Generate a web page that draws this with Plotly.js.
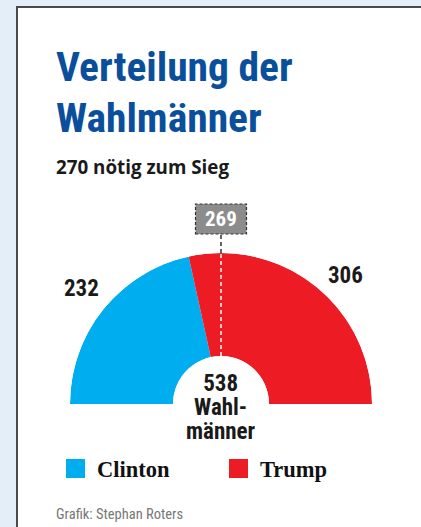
<!DOCTYPE html>
<html><head><meta charset="utf-8">
<script src="https://cdn.plot.ly/plotly-3.0.1.min.js"></script>
<style>html,body{margin:0;padding:0;background:#e4eef8;overflow:hidden}</style>
</head><body><div id="chart" style="width:421px;height:527px"></div>
<script>
// ---- data ----
const candidates = ['Clinton', 'Trump'];
const electors = [232, 306];
const colors = ['#00aeef', '#ed1c24'];
const majorityMark = 269;
const centerLabel = ['538', 'Wahl-', 'männer'];
const titleLines = ['Verteilung der', 'Wahlmänner'];
const subtitle = '270 nötig zum Sieg';
const source = 'Grafik: Stephan Roters';

// ---- geometry helpers ----
const W = 421, H = 527;
const px = x => x / W, py = y => 1 - y / H;
const cx = 221, cy = 404, R = 151, hole = 48 / 151;
const total = electors.reduce((a, b) => a + b, 0);

let acc = 0;
const widths = electors.map(v => v / total * 180);
const thetas = electors.map((v, i) => { const c = acc + widths[i] / 2; acc += widths[i]; return c; });

const COND = '"Roboto Condensed", "Open Sans Condensed", sans-serif';
const SANS = '"Open Sans", "Noto Sans", sans-serif';
const SERIF = '"Liberation Serif", serif';

const traces = [{
  type: 'barpolar',
  r: electors.map(() => 1),
  theta: thetas,
  width: widths,
  marker: { color: colors, line: { width: 0 } },
  hoverinfo: 'skip',
  showlegend: false
}];

const markAngle = majorityMark / total * 180;
traces.push({
  type: 'scatterpolar',
  r: [0, 1],
  theta: [markAngle, markAngle],
  mode: 'lines',
  line: { color: '#ffffff', width: 1.5, dash: '4px,3px' },
  hoverinfo: 'skip',
  showlegend: false
});

// marker position in pixels (angle measured from the left, clockwise)
const rad = markAngle * Math.PI / 180;
const mx = cx - R * Math.cos(rad), my = cy - R * Math.sin(rad);
const boxW = 51, boxH = 30, boxBottom = 234;

const shapes = [
  { type: 'rect', xref: 'paper', yref: 'paper', x0: px(17), x1: px(440), y0: py(7), y1: py(560),
    fillcolor: '#ffffff', line: { color: '#4a4a4a', width: 2 }, layer: 'below' },
  { type: 'line', xref: 'paper', yref: 'paper', x0: px(mx), x1: px(mx), y0: py(my), y1: py(boxBottom),
    line: { color: '#111', width: 1.3, dash: '4px,3px' } },
  { type: 'rect', xref: 'paper', yref: 'paper', x0: px(mx - boxW / 2), x1: px(mx + boxW / 2),
    y0: py(boxBottom), y1: py(boxBottom - boxH),
    fillcolor: '#8c8c8c', line: { color: '#333', width: 1.2, dash: '3px,2px' } }
];

const annotations = [
  { text: subtitle, x: px(54), y: py(166.5), xanchor: 'left', yanchor: 'middle',
    font: { family: SANS, size: 18.8, color: '#1a1a1a', weight: 700 } },
  { text: String(majorityMark), x: px(mx), y: py(boxBottom - boxH / 2), xanchor: 'center', yanchor: 'middle',
    font: { family: COND, size: 21, color: '#ffffff', weight: 700 } },
  { text: String(electors[0]), x: px(81), y: py(288), xanchor: 'center', yanchor: 'middle',
    font: { family: COND, size: 23, color: '#1a1a1a', weight: 700 } },
  { text: String(electors[1]), x: px(345), y: py(275), xanchor: 'center', yanchor: 'middle',
    font: { family: COND, size: 23, color: '#1a1a1a', weight: 700 } },
  { text: source, x: px(54), y: py(514), xanchor: 'left', yanchor: 'middle',
    font: { family: COND, size: 14.5, color: '#777777' } },
  // centre label: one text block, tighter line spacing (1.3 x 18.5px) with 23px glyphs
  { text: centerLabel.map(t => '<span style="font-size:23px">' + t + '</span>').join('<br>'),
    x: px(cx), y: py(407), xanchor: 'center', yanchor: 'middle', align: 'center',
    font: { family: COND, size: 18.5, color: '#1a1a1a', weight: 700 } }
];
titleLines.forEach((t, i) => annotations.push({
  text: t, x: px(54), y: py(40 + i * 51), xanchor: 'left', yanchor: 'top', align: 'left',
  font: { family: COND, size: 41.5, color: '#0a4f9c', weight: 700 }
}));

// legend drawn as coloured squares + serif labels
const legendX = [66, 229];
candidates.forEach((c, i) => {
  shapes.push({ type: 'rect', xref: 'paper', yref: 'paper', x0: px(legendX[i]), x1: px(legendX[i] + 19),
    y0: py(478), y1: py(459), fillcolor: colors[i], line: { width: 0 } });
  annotations.push({ text: c, x: px(legendX[i] + 29), y: py(469), xanchor: 'left', yanchor: 'middle',
    font: { family: SERIF, size: 22.5, color: '#111', weight: 700 } });
});
annotations.forEach(a => { a.xref = 'paper'; a.yref = 'paper'; a.showarrow = false; });

const layout = {
  width: W, height: H,
  margin: { l: 0, r: 0, t: 0, b: 0 },
  paper_bgcolor: '#e4eef8',
  showlegend: false,
  polar: {
    domain: { x: [px(cx - R), px(cx + R)], y: [py(cy), py(cy - R)] },
    sector: [0, 180],
    hole: hole,
    bgcolor: 'rgba(0,0,0,0)',
    radialaxis: { range: [0, 1], visible: false, showgrid: false, showline: false, showticklabels: false, ticks: '' },
    angularaxis: { rotation: 180, direction: 'clockwise', visible: false, showgrid: false, showline: false,
      showticklabels: false, ticks: '' }
  },
  shapes: shapes,
  annotations: annotations
};

Plotly.newPlot('chart', traces, layout, { displayModeBar: false, staticPlot: true });
</script>
</body></html>
